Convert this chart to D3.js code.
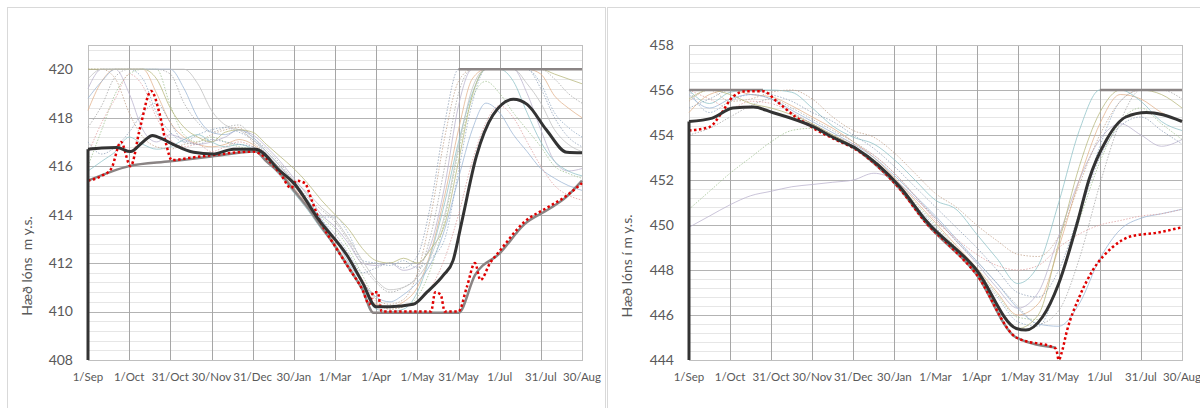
<!DOCTYPE html>
<html>
<head>
<meta charset="utf-8">
<script src="https://cdn.jsdelivr.net/npm/d3@7"></script>
<style>
  body { margin: 0; background: #fff; }
  text { font-family: Lato, "Open Sans", sans-serif; fill: #595959; }
</style>
</head>
<body>
<svg id="chart" width="1200" height="408"></svg>
<script>
// x axis: days from 1 Sep
const tickDays = [0, 30, 60, 90, 120, 150, 180, 210, 240, 270, 300, 330, 360];
const tickLabels = ["1/Sep", "1/Oct", "31/Oct", "30/Nov", "31/Dec", "30/Jan", "1/Mar", "1/Apr", "1/May", "31/May", "1/Jul", "31/Jul", "30/Aug"];

// ---------- left reservoir ----------
const leftTicks = [408, 410, 412, 414, 416, 418, 420];
const leftHistDays = [0, 10, 20, 30, 40, 50, 60, 70, 80, 90, 100, 110, 120, 130, 140, 150, 160, 170, 180, 190, 200, 210, 220, 230, 240, 250, 260, 270, 280, 290, 300, 310, 320, 330, 340, 350, 360];
const leftHist = [
  [420, 420, 420, 420, 419.6, 418.2, 417.4, 417.0, 417.3, 417.5, 417.6, 417.4, 417.1, 416.5, 415.9, 415.2, 414.5, 413.9, 413.9, 413.2, 412.1, 412.0, 411.9, 412.1, 411.8, 412.2, 413.0, 415.8, 418.6, 420, 420, 420, 420, 419.4, 418.2, 417.6, 417.2],
  [418.3, 419.5, 420, 420, 420, 419.0, 417.8, 417.2, 416.9, 416.8, 416.9, 417.1, 416.9, 416.4, 415.8, 415.1, 414.4, 413.6, 412.8, 411.9, 411.0, 410.3, 410.2, 410.4, 411.0, 412.5, 414.8, 417.5, 419.6, 420, 420, 420, 420, 419.8, 418.9, 418.4, 418.0],
  [416.0, 417.5, 419.0, 419.8, 420, 420, 418.5, 417.3, 417.0, 417.2, 417.0, 416.8, 416.7, 416.3, 415.8, 415.3, 414.6, 413.9, 413.4, 412.6, 411.5, 410.5, 410.1, 410.2, 410.6, 411.8, 413.8, 416.6, 418.8, 419.5, 419.0, 418.2, 417.5, 416.8, 416.0, 415.7, 415.5],
  [419.2, 420, 420, 419.0, 417.5, 417.0, 417.3, 417.1, 416.9, 417.0, 417.2, 417.5, 417.3, 416.8, 416.2, 415.5, 414.8, 414.0, 413.5, 412.8, 412.0, 411.9, 412.0, 411.7, 411.9, 412.8, 415.2, 418.5, 420, 420, 420, 420, 419.0, 417.5, 416.2, 415.8, 415.9],
  [417.6, 418.5, 419.7, 420, 420, 420, 419.8, 418.6, 417.8, 417.4, 417.6, 417.7, 417.2, 416.7, 416.1, 415.4, 414.7, 414.2, 413.7, 412.9, 411.9, 411.2, 410.8, 411.0, 411.5, 413.2, 416.0, 419.0, 420, 420, 420, 420, 420, 420, 419.6, 419.0, 418.6],
  [415.8, 416.2, 416.6, 417.2, 416.9, 416.7, 416.8, 417.1, 417.3, 417.0, 416.8, 416.9, 416.7, 416.2, 415.6, 414.9, 414.2, 413.4, 412.7, 411.9, 411.0, 410.1, 410.0, 410.1, 410.8, 412.4, 414.5, 417.0, 419.0, 420, 420, 419.5, 418.2, 417.0, 416.2, 415.8, 415.6],
  [420, 420, 419.6, 418.2, 417.2, 416.8, 416.7, 416.9, 417.0, 417.3, 417.5, 417.6, 417.0, 416.5, 415.9, 415.2, 414.5, 413.7, 413.0, 412.2, 411.3, 410.5, 410.3, 410.5, 411.6, 414.0, 417.2, 419.5, 420, 420, 420, 420, 420, 420, 420, 420, 420],
  [418.8, 419.5, 420, 420, 420, 420, 420, 419.2, 418.0, 417.4, 417.3, 417.5, 417.2, 416.6, 416.0, 415.3, 414.6, 413.8, 413.0, 412.0, 411.2, 410.6, 410.4, 410.7, 411.2, 412.0, 413.4, 415.5, 417.5, 418.6, 418.2, 417.3, 416.6, 415.9, 415.5, 415.2, 415.0],
  [416.5, 417.8, 418.8, 419.8, 419.3, 418.0, 417.1, 416.8, 416.9, 416.6, 416.8, 417.0, 416.8, 416.3, 415.7, 415.1, 414.4, 413.7, 413.0, 412.2, 411.3, 410.4, 410.1, 410.2, 410.4, 411.0, 412.2, 414.0, 416.2, 417.8, 418.5, 418.0, 417.0, 416.0, 415.2, 414.8, 414.6],
  [420, 420, 420, 420, 420, 419.6, 418.4, 417.6, 417.2, 417.0, 417.4, 417.5, 417.4, 416.9, 416.4, 415.9, 415.3, 414.6, 414.0, 413.4, 412.6, 412.1, 412.0, 412.2, 412.0, 412.6, 413.6, 416.2, 418.9, 420, 420, 420, 420, 420, 419.8, 419.6, 419.4],
  [417.0, 416.5, 416.8, 417.4, 418.2, 418.6, 417.8, 417.0, 416.9, 417.1, 417.0, 416.9, 416.8, 416.4, 415.8, 415.2, 414.5, 413.8, 413.2, 412.4, 411.6, 411.8, 412.0, 411.8, 412.3, 414.5, 417.8, 420, 420, 420, 420, 420, 420, 419.2, 418.0, 417.2, 416.8],
  [419.6, 420, 420, 420, 420, 420, 420, 420, 419.4, 418.3, 417.7, 417.5, 417.1, 416.6, 416.0, 415.4, 414.9, 414.3, 413.8, 413.0, 412.1, 411.3, 410.9, 411.0, 411.4, 412.3, 414.0, 416.8, 419.2, 420, 420, 420, 419.4, 418.6, 417.5, 416.9, 416.6]
];
const leftMean = [[0, 416.7], [10, 416.75], [21, 416.77], [31, 416.6], [40, 417.0], [47, 417.27], [55, 417.1], [62, 416.9], [77, 416.57], [91, 416.5], [106, 416.7], [122, 416.7], [140, 415.8], [150, 415.3], [168, 413.8], [189, 412.3], [200, 411.2], [210, 410.2], [220, 410.2], [237, 410.3], [247, 410.8], [259, 411.5], [266, 412.1], [272, 413.6], [283, 416.4], [295, 418.1], [310, 418.76], [320, 418.55], [334, 417.5], [349, 416.57], [360, 416.55]];
const leftLower = [[0, 415.4], [30, 416.0], [60, 416.2], [90, 416.4], [122, 416.6], [130, 416.2], [140, 415.7], [150, 415.0], [160, 414.3], [170, 413.5], [180, 412.7], [190, 411.8], [200, 410.9], [208, 409.95], [270, 409.95], [282, 411.5], [300, 412.4], [318, 413.6], [335, 414.2], [348, 414.7], [360, 415.4]];
const leftUpper = [[270, 420], [360, 420]];
const leftCurrent = [[0, 415.4], [10, 415.6], [17, 415.9], [24, 417.0], [31, 416.0], [38, 417.6], [46, 419.1], [52, 418.2], [57, 416.9], [61, 416.25], [75, 416.35], [90, 416.45], [120, 416.6], [140, 415.7], [148, 415.1], [152, 415.4], [158, 415.3], [163, 414.6], [167, 414.0], [180, 412.7], [190, 411.8], [200, 410.9], [205, 410.3], [208, 410.8], [211, 410.8], [214, 410.0], [250, 410.0], [253, 410.8], [257, 410.7], [260, 410.0], [270, 410.0], [276, 411.0], [282, 412.0], [286, 411.3], [293, 412.0], [300, 412.5], [318, 413.7], [335, 414.3], [348, 414.75], [360, 415.3]];

// ---------- right reservoir ----------
const rightTicks = [444, 446, 448, 450, 452, 454, 456, 458];
const rightHistDays = [0, 15, 30, 45, 60, 75, 90, 105, 120, 135, 150, 165, 180, 195, 210, 225, 240, 255, 270, 285, 300, 315, 330, 345, 360];
const rightHist = [
  [456, 455.0, 455.5, 455.8, 455.6, 455.0, 454.5, 454.0, 453.5, 452.8, 451.9, 450.9, 449.9, 448.9, 447.9, 446.8, 445.7, 445.5, 447.5, 450.5, 453.5, 455.5, 456, 456, 456],
  [455.0, 455.8, 456, 455.8, 455.7, 455.3, 454.8, 454.3, 453.7, 453.0, 452.1, 451.1, 450.1, 449.1, 448.1, 447.0, 446.0, 446.5, 449.0, 452.0, 454.5, 455.8, 455.6, 455.0, 454.6],
  [450.7, 451.5, 452.3, 453.0, 453.7, 454.2, 454.3, 454.0, 453.5, 452.9, 452.0, 451.0, 450.0, 449.0, 448.0, 446.9, 445.9, 445.8, 447.5, 450.2, 452.8, 454.6, 455.2, 454.5, 453.8],
  [449.9, 450.4, 450.9, 451.3, 451.5, 451.7, 451.8, 451.9, 452.0, 452.3, 452.0, 451.2, 450.3, 449.3, 448.3, 447.2, 446.3, 447.0, 449.5, 452.0, 453.8, 454.5, 454.0, 453.5, 453.8],
  [454.0, 454.3, 454.8, 455.3, 455.6, 455.2, 454.7, 454.2, 453.7, 453.1, 452.3, 451.3, 450.3, 449.3, 448.4, 447.4, 446.4, 445.6, 446.2, 448.5, 451.8, 454.6, 456, 456, 455.6],
  [456, 455.4, 455.9, 456, 456, 455.9, 455.2, 454.4, 453.9, 453.6, 452.9, 452.0, 451.1, 450.7, 449.6, 448.5, 447.4, 448.2, 451.0, 454.2, 456, 456, 455.5, 454.6, 454.2],
  [455.5, 456, 455.5, 455.6, 455.9, 456, 455.6, 454.8, 454.2, 453.9, 453.2, 452.3, 451.4, 450.8, 450.0, 449.3, 448.7, 448.6, 449.5, 451.8, 454.0, 455.5, 456, 456, 456],
  [455.8, 455.2, 455.6, 455.8, 455.6, 455.1, 454.6, 454.1, 453.6, 453.0, 452.2, 451.3, 450.4, 449.4, 448.4, 447.4, 446.3, 445.6, 445.5, 446.5, 448.5, 449.8, 450.3, 450.5, 450.7],
  [456, 455.6, 455.2, 455.5, 455.4, 455.0, 454.5, 454.0, 453.6, 453.1, 452.3, 451.3, 450.2, 449.4, 448.7, 448.2, 448.0, 448.2, 449.0, 449.6, 450.0, 450.2, 450.4, 450.5, 450.7],
  [455.6, 456, 455.8, 455.4, 455.2, 454.9, 454.5, 454.0, 453.5, 452.8, 451.9, 450.8, 449.7, 448.8, 447.9, 446.4, 445.4, 446.0, 449.2, 452.6, 455.0, 456, 456, 455.8, 455.2],
  [455.2, 455.6, 456, 456, 455.8, 455.5, 455.0, 454.6, 454.0, 453.4, 452.6, 451.7, 450.8, 449.9, 449.0, 448.0, 447.0, 446.8, 448.0, 450.5, 453.0, 454.4, 454.8, 454.2, 453.6]
];
const rightMean = [[0, 454.6], [17, 454.75], [32, 455.2], [47, 455.24], [61, 455.0], [91, 454.36], [105, 453.9], [122, 453.4], [154, 451.7], [173, 450.2], [210, 448.0], [239, 445.4], [246, 445.33], [258, 445.9], [270, 447.4], [284, 450.2], [292, 452.0], [305, 453.8], [319, 454.8], [334, 455.0], [346, 454.9], [360, 454.6]];
const rightLower = [[120, 453.5], [154, 451.6], [173, 450.1], [210, 447.8], [239, 445.0], [268, 444.55]];
const rightUpperA = [[0, 456], [54, 456]];
const rightUpperB = [[300, 456], [360, 456]];
const rightCurrent = [[0, 454.2], [15, 454.36], [24, 455.0], [32, 455.7], [42, 455.95], [54, 455.95], [64, 455.5], [78, 454.8], [86, 454.5], [91, 454.3], [105, 453.85], [122, 453.35], [154, 451.6], [173, 450.1], [190, 449.1], [210, 447.8], [239, 445.0], [268, 444.5], [270, 444.0], [272, 444.3], [276, 445.3], [285, 446.8], [295, 448.0], [309, 449.0], [323, 449.5], [341, 449.65], [360, 449.9]];

const histColors = ["#8ea7c2", "#e2b08a", "#9cbf8c", "#b8b0cc", "#a3a3a3", "#8cc0c6", "#c0a088", "#9ab4d4", "#dd9c9c", "#b6b67a", "#8c9db6", "#bdbdbd"];

const svg = d3.select("#chart");

// panel frames
svg.append("rect").attr("x", 7.5).attr("y", 7.5).attr("width", 598).attr("height", 420)
  .attr("fill", "none").attr("stroke", "#d9d9d9");
svg.append("rect").attr("x", 607.5).attr("y", 7.5).attr("width", 620).attr("height", 420)
  .attr("fill", "none").attr("stroke", "#d9d9d9");

function drawPanel(p) {
  const x = d3.scaleLinear().domain([0, 360]).range([p.left, p.right]);
  const y = d3.scaleLinear().domain(p.domain).range([360, 45]);
  const g = svg.append("g");

  // minor gridlines
  const minor = [];
  for (let v = p.domain[0]; v <= p.domain[1] + 1e-6; v += 0.4) minor.push(+v.toFixed(1));
  g.selectAll(".minor").data(minor).join("line")
    .attr("x1", p.left).attr("x2", p.right)
    .attr("y1", d => Math.round(y(d)) + 0.5).attr("y2", d => Math.round(y(d)) + 0.5)
    .attr("stroke", "#e6e6e6");
  // major gridlines
  g.selectAll(".major").data(p.ticks).join("line")
    .attr("x1", p.left).attr("x2", p.right)
    .attr("y1", d => Math.round(y(d)) + 0.5).attr("y2", d => Math.round(y(d)) + 0.5)
    .attr("stroke", "#b3b3b3");
  // vertical gridlines
  g.selectAll(".vgrid").data(tickDays).join("line")
    .attr("x1", d => Math.round(x(d)) + 0.5).attr("x2", d => Math.round(x(d)) + 0.5)
    .attr("y1", 45).attr("y2", 360)
    .attr("stroke", "#a6a6a6");
  g.append("rect").attr("x", p.left + 0.5).attr("y", 45.5)
    .attr("width", p.right - p.left).attr("height", 315)
    .attr("fill", "none").attr("stroke", "#bfbfbf");

  const line = d3.line().x(d => x(d[0])).y(d => y(d[1])).curve(d3.curveMonotoneX);

  // historical years
  p.hist.forEach((vals, i) => {
    g.append("path")
      .datum(vals.map((v, j) => [p.histDays[j], v]))
      .attr("d", line)
      .attr("fill", "none")
      .attr("stroke", histColors[i % histColors.length])
      .attr("stroke-width", 1)
      .attr("stroke-opacity", 0.75)
      .attr("stroke-dasharray", i % 2 === 0 ? "1.5,1.5" : null);
  });

  // guide curves
  p.guides.forEach(s => {
    g.append("path").datum(s).attr("d", line)
      .attr("fill", "none").attr("stroke", "#8a8484").attr("stroke-width", 2.5);
  });

  // current year
  g.append("path").datum(p.current).attr("d", line)
    .attr("fill", "none").attr("stroke", "#e00000").attr("stroke-width", 2.5)
    .attr("stroke-dasharray", "2.5,2.5");

  // mean, with its drop to the axis at the start
  g.append("line")
    .attr("x1", x(p.mean[0][0])).attr("x2", x(p.mean[0][0]))
    .attr("y1", y(p.domain[0])).attr("y2", y(p.mean[0][1]))
    .attr("stroke", "#333").attr("stroke-width", 3);
  g.append("path").datum(p.mean).attr("d", line)
    .attr("fill", "none").attr("stroke", "#333").attr("stroke-width", 3);

  // axis labels
  g.selectAll(".ylab").data(p.ticks).join("text")
    .attr("x", p.left - 15).attr("y", d => y(d))
    .attr("dy", "0.35em").attr("text-anchor", "end")
    .style("font-size", "14px")
    .text(d => d);
  g.selectAll(".xlab").data(tickDays).join("text")
    .attr("x", d => x(d)).attr("y", 381)
    .attr("text-anchor", "middle")
    .style("font-size", "11.5px")
    .text((d, i) => tickLabels[i]);
  g.append("text")
    .attr("transform", `translate(${p.titleX},266) rotate(-90)`)
    .attr("text-anchor", "middle").attr("dy", "0.35em")
    .style("font-size", "14px").style("white-space", "pre")
    .text(p.title);
}

drawPanel({
  left: 88, right: 582, domain: [408, 421], ticks: leftTicks,
  histDays: leftHistDays, hist: leftHist,
  guides: [leftLower, leftUpper], current: leftCurrent, mean: leftMean,
  title: "Hæð lóns  m y.s.", titleX: 27
});
drawPanel({
  left: 689, right: 1182, domain: [444, 458], ticks: rightTicks,
  histDays: rightHistDays, hist: rightHist,
  guides: [rightLower, rightUpperA, rightUpperB], current: rightCurrent, mean: rightMean,
  title: "Hæð lóns í m y.s.", titleX: 627
});
</script>
</body>
</html>
